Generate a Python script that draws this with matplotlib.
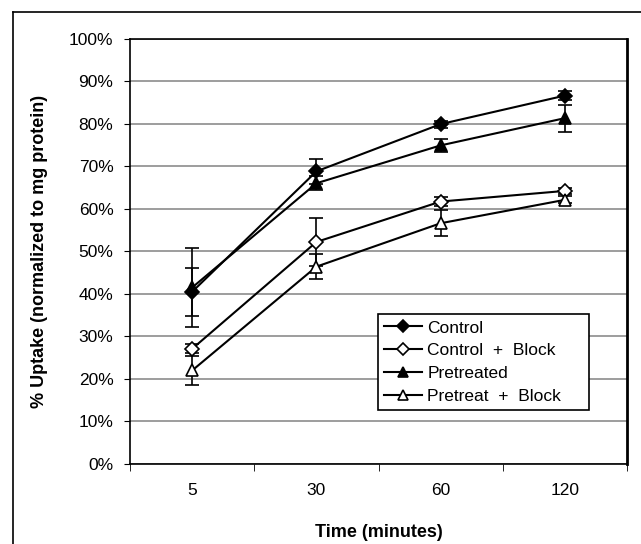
import numpy as np
import matplotlib.pyplot as plt
from matplotlib.lines import Line2D

plt.rcParams['font.family'] = ['Liberation Sans', 'DejaVu Sans']

# Daten (Anteil in %)
times = ['5', '30', '60', '120']
control = [40.5, 68.8, 79.9, 86.6]
control_err = [5.6, 3.0, 0.8, 1.0]
control_block = [27.1, 52.2, 61.7, 64.2]
control_block_err = [1.0, 5.6, 1.0, 0.7]
pretreated = [41.5, 66.0, 74.9, 81.3]
pretreated_err = [9.3, 1.7, 1.5, 3.2]
pretreat_block = [22.0, 46.4, 56.6, 62.1]
pretreat_block_err = [3.4, 3.0, 3.0, 0.8]

fig = plt.figure(figsize=(6.41, 5.44), dpi=100)
ax = fig.add_axes([0.203, 0.147, 0.775, 0.782])

x = np.arange(len(times))
series = [
    ('Control', control, control_err, 'D', 'black'),
    ('Control  +  Block', control_block, control_block_err, 'D', 'white'),
    ('Pretreated', pretreated, pretreated_err, '^', 'black'),
    ('Pretreat  +  Block', pretreat_block, pretreat_block_err, '^', 'white'),
]
for name, vals, err, m, fc in series:
    ax.errorbar(x, vals, yerr=err, fmt='none', ecolor='black',
                capsize=5, elinewidth=1.2, capthick=1.2)
    ax.plot(x, vals, color='black', lw=1.5, marker=m,
            markersize=7 if m == 'D' else 8, markerfacecolor=fc,
            markeredgecolor='black', markeredgewidth=1.2, label=name)

ax.set_xlim(-0.5, 3.5)
ax.set_ylim(0, 100)
ax.set_yticks(np.arange(0, 101, 10))
ax.set_yticklabels([f'{v}%' for v in range(0, 101, 10)])
ax.set_xticks(x)
ax.set_xticklabels(times)
ax.set_xticks([-0.5, 0.5, 1.5, 2.5, 3.5], minor=True)
ax.tick_params(axis='x', which='major', length=0, pad=14, labelsize=12.5)
ax.tick_params(axis='x', which='minor', length=5, direction='out', color='black')
ax.tick_params(axis='y', length=4, direction='out', labelsize=12.5, pad=8)

ax.yaxis.grid(True, color='#8c8c8c', lw=1.2)
ax.set_axisbelow(True)
for side in ['left', 'bottom', 'top']:
    ax.spines[side].set_color('black')
    ax.spines[side].set_linewidth(1.2)
ax.spines['right'].set_color('black')
ax.spines['right'].set_linewidth(2.0)

ax.set_xlabel('Time (minutes)', fontsize=13, fontweight='bold')
ax.set_ylabel('% Uptake (normalized to mg protein)', fontsize=13,
              fontweight='bold')
ax.xaxis.set_label_coords(0.5, -0.161)
ax.xaxis.label.set_va('center')
ax.yaxis.set_label_coords(-0.183, 0.5)
ax.yaxis.label.set_va('center')

leg = ax.legend(loc='upper left', bbox_to_anchor=(0.499, 0.0, 0.425, 0.352),
                mode='expand', fontsize=12.5, handlelength=2.2,
                handletextpad=0.3, borderaxespad=0, fancybox=False,
                framealpha=1, labelspacing=0.45, borderpad=0.35,
                markerscale=0.85)
leg.get_frame().set_edgecolor('black')
leg.get_frame().set_linewidth(1.2)

# aeusserer Rahmen (nur links und oben sichtbar)
fx = 12.5 / 641
fy = 1 - 12 / 544
fig.add_artist(Line2D([fx, fx], [0, fy], transform=fig.transFigure,
                      color='black', lw=1.2))
fig.add_artist(Line2D([fx, 1], [fy, fy], transform=fig.transFigure,
                      color='black', lw=1.2))

fig.savefig('out.png', dpi=100)
